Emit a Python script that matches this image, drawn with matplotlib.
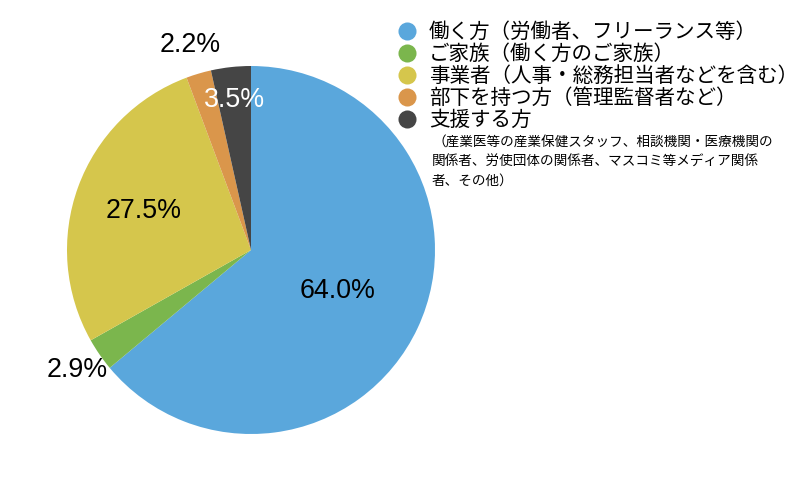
import numpy as np
import matplotlib.pyplot as plt
from matplotlib.lines import Line2D

plt.rcParams['font.family'] = ['Noto Sans CJK JP', 'DejaVu Sans']

categories = [
    '働く方（労働者、フリーランス等）',
    'ご家族（働く方のご家族）',
    '事業者（人事・総務担当者などを含む）',
    '部下を持つ方（管理監督者など）',
    '支援する方',
]
shares = [64.0, 2.9, 27.5, 2.2, 3.5]
colors = ['#5aa7dc', '#7bb64d', '#d5c64c', '#da964b', '#454545']
label_dist = [0.52, 1.15, 0.62, 1.16, 0.82]
label_colors = ['black', 'black', 'black', 'black', 'white']
note = ('（産業医等の産業保健スタッフ、相談機関・医療機関の\n'
        '関係者、労使団体の関係者、マスコミ等メディア関係\n'
        '者、その他）')


def main():
    fig = plt.figure(figsize=(8, 5), dpi=100)
    ax = fig.add_axes([0, 0, 1, 1])

    wedges, texts = ax.pie(
        shares, colors=colors, startangle=90, counterclock=False,
        center=(251, 250), radius=184, frame=True,
        wedgeprops=dict(linewidth=0))
    ax.set_xlim(0, 800)
    ax.set_ylim(0, 500)
    ax.set_aspect('equal')
    ax.axis('off')

    # percentage labels, some inside and some outside the slices
    for w, s, d, c in zip(wedges, shares, label_dist, label_colors):
        mid = np.deg2rad((w.theta1 + w.theta2) / 2)
        ax.text(w.center[0] + d * w.r * np.cos(mid),
                w.center[1] + d * w.r * np.sin(mid),
                f'{s:.1f}%', ha='center', va='center', color=c,
                fontsize=19.3, family=['Liberation Sans', 'DejaVu Sans'])

    handles = [Line2D([], [], marker='o', linestyle='none', markersize=13,
                      markerfacecolor=c, markeredgewidth=0) for c in colors]
    fig.legend(handles, categories, loc='upper left',
               bbox_to_anchor=(397 / 800, 1 - 21 / 500), frameon=False,
               fontsize=14.8, handlelength=1.0, handletextpad=0.56,
               labelspacing=0.0, borderpad=0, borderaxespad=0)

    ax.text(432, 500 - 135, note, fontsize=9.8, va='top', ha='left',
            linespacing=1.5)

    fig.savefig('out.png', dpi=100)


if __name__ == '__main__':
    main()
